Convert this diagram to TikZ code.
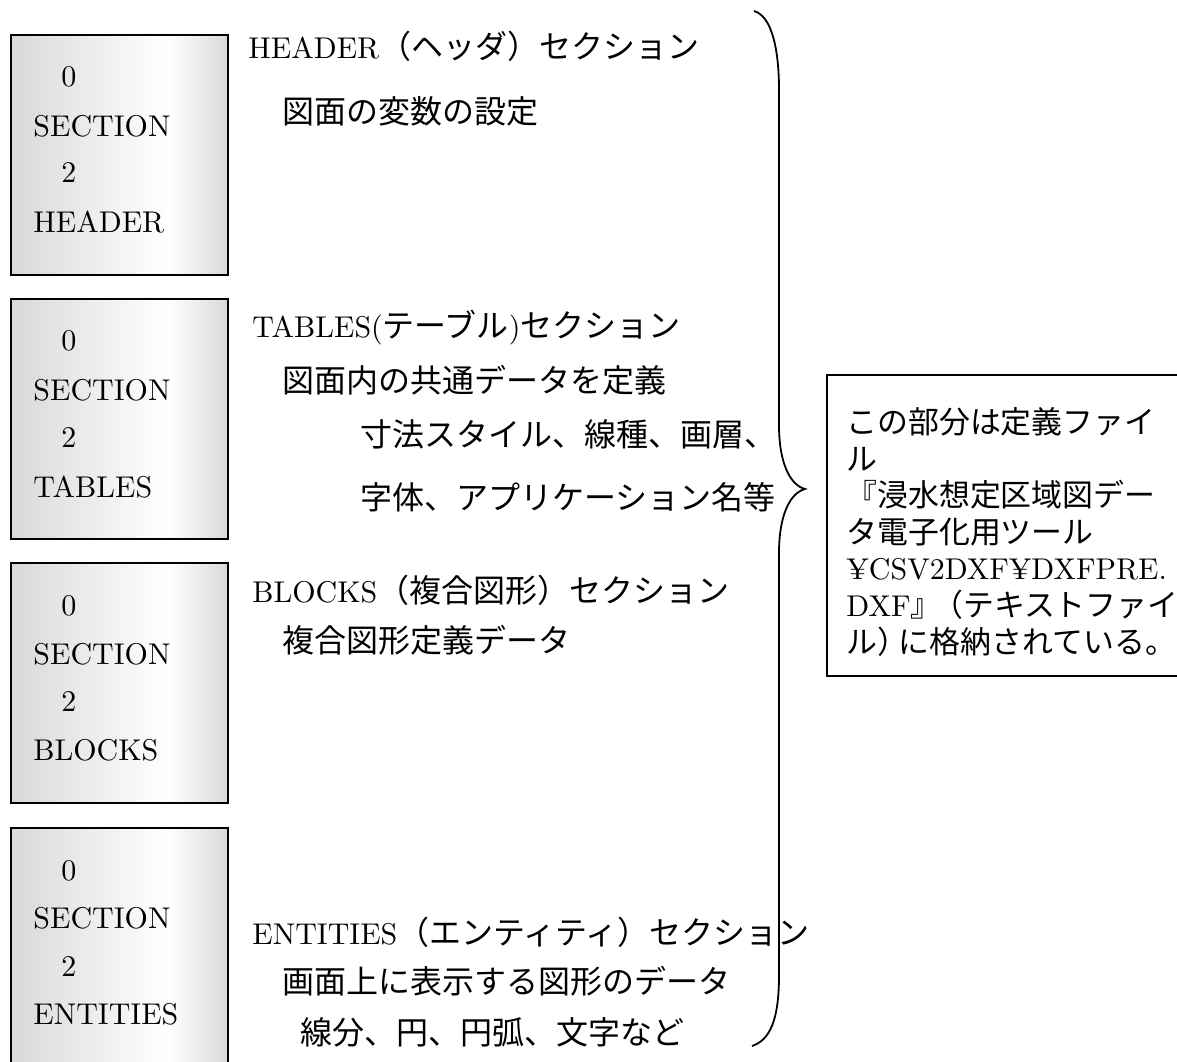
\documentclass[tikz,border=0pt]{standalone}
\usepackage{fontspec}
\setmainfont{lmroman10-regular.otf}
\newfontfamily\jp[Scale=1.0667]{Noto Sans CJK JP}
\newfontfamily\jpn[Scale=1.03]{Noto Sans CJK JP}
\pgfdeclarehorizontalshading{boxshade}{100bp}{color(0bp)=(black!15); color(25bp)=(black!15); color(61bp)=(white); color(75bp)=(black!15); color(100bp)=(black!15)}
\tikzset{
  secbox/.style={draw=black, line width=0.8pt, shading=boxshade, rectangle, inner sep=0pt, minimum width=108.5pt, minimum height=120pt},
  notebox/.style={draw=black, line width=0.7pt, fill=white, rectangle, inner sep=0pt, minimum width=181.5pt, minimum height=150.5pt},
  lbl/.style={anchor=west, inner sep=0pt, font=\fontsize{15}{18}\selectfont},
  bracecurve/.style={draw=black, line width=0.9pt},
}
\begin{document}
\begin{tikzpicture}[x=0.5pt,y=-0.5pt]
\useasboundingbox (0,0) rectangle (1177,1061);
\clip (0,0) rectangle (1177,1061);
\fill[white] (0,0) rectangle (1177,1061);
% section boxes
\node[secbox] (b1) at (119.5,155) {};
\node[secbox] (b2) at (119.5,419) {};
\node[secbox] (b3) at (119.5,683) {};
\node[secbox] (b4) at (119.5,948) {};
% box texts
\node[lbl] (b1a) at (61,77) {0};
\node[lbl] (b1b) at (33,126) {SECTION};
\node[lbl] (b1c) at (61,173) {2};
\node[lbl] (b1d) at (33,222) {HEADER};
\node[lbl] (b2a) at (61,341) {0};
\node[lbl] (b2b) at (33,390) {SECTION};
\node[lbl] (b2c) at (61,437) {2};
\node[lbl] (b2d) at (33,487) {TABLES};
\node[lbl] (b3a) at (61,606) {0};
\node[lbl] (b3b) at (33,654) {SECTION};
\node[lbl] (b3c) at (61,701) {2};
\node[lbl] (b3d) at (33,750) {BLOCKS};
\node[lbl] (b4a) at (61,871) {0};
\node[lbl] (b4b) at (33,918) {SECTION};
\node[lbl] (b4c) at (61,966) {2};
\node[lbl] (b4d) at (33,1014) {ENTITIES};
% descriptions
\node[lbl] (h1) at (248,46) {HEADER{\jp （ヘッダ）セクション}};
\node[lbl] (h2) at (282,111) {\jp 図面の変数の設定};
\node[lbl] (t1) at (252,328) {TABLES({\jp テーブル}){\jp セクション}};
\node[lbl] (t2) at (282,380) {\jp 図面内の共通データを定義};
\node[lbl] (t3) at (360,434) {\jp 寸法スタイル、線種、画層、};
\node[lbl] (t4) at (360,497) {\jp 字体、アプリケーション名等};
\node[lbl] (k1) at (252,590) {BLOCKS{\jp （複合図形）セクション}};
\node[lbl] (k2) at (282,640) {\jp 複合図形定義データ};
\node[lbl] (e1) at (252,932) {ENTITIES{\jp （エンティティ）セクション}};
\node[lbl] (e2) at (282,981) {\jp 画面上に表示する図形のデータ};
\node[lbl] (e3) at (300,1032) {\jp 線分、円、円弧、文字など};
% brace
\coordinate (bt) at (754,11);
\coordinate (bm) at (805,489);
\coordinate (bb) at (752,1046);
\draw[bracecurve] (bt) .. controls (772,16) and (779,50) .. (779,90) -- (779,425)
  .. controls (779,463) and (790,485) .. (bm)
  .. controls (790,493) and (779,515) .. (779,553) -- (779,975)
  .. controls (779,1020) and (770,1040) .. (bb);
% note box
\node[notebox] (note) at (1008.5,525.5) {};
\node[lbl] (n1) at (846,422) {\jpn この部分は定義ファイ};
\node[lbl] (n2) at (846,459) {\jpn ル};
\node[lbl] (n3) at (846,495) {\jpn 『浸水想定区域図デー};
\node[lbl] (n4) at (846,532) {\jpn タ電子化用ツール};
\node[lbl] (n5) at (846,569) {¥CSV2DXF¥DXFPRE.};
\node[lbl] (n6) at (846,605) {DXF{\jpn 』\kern-0.3em（テキストファイ}};
\node[lbl] (n7) at (846,642) {\jpn ル）\kern-0.3emに格納されている。};
\end{tikzpicture}
\end{document}
